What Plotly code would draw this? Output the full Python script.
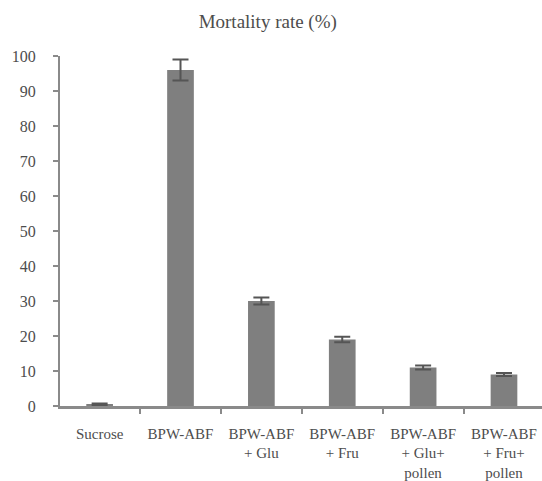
import plotly.graph_objects as go

# Treatments and measured mortality (%) with standard errors
categories = ["Sucrose", "BPW-ABF", "BPW-ABF + Glu", "BPW-ABF + Fru",
              "BPW-ABF + Glu + pollen", "BPW-ABF + Fru + pollen"]
tick_labels = ["Sucrose", "BPW-ABF", "BPW-ABF<br>+ Glu", "BPW-ABF<br>+ Fru",
               "BPW-ABF<br>+ Glu+<br>pollen", "BPW-ABF<br>+ Fru+<br>pollen"]
mortality = [0.5, 96, 30, 19, 11, 9]
std_err = [0.2, 3, 1, 0.8, 0.55, 0.45]
y_ticks = [0, 10, 20, 30, 40, 50, 60, 70, 80, 90, 100]

FONT = "'Liberation Serif', 'Times New Roman', 'DejaVu Serif', serif"
AXIS_GREY = "#8a8a8a"
TEXT_GREY = "#4d4d4d"

fig = go.Figure()

fig.add_trace(go.Bar(
    x=categories, y=mortality, width=0.33,
    marker=dict(color="#7f7f7f", line=dict(width=0)),
    error_y=dict(type="data", array=std_err, visible=True,
                 color="#555555", thickness=2, width=8),
    showlegend=False,
))

fig.update_layout(
    width=542, height=481,
    margin=dict(l=60, r=0, t=56, b=75),
    paper_bgcolor="white", plot_bgcolor="white",
    font=dict(family=FONT, size=16, color=TEXT_GREY),
    title=dict(text="Mortality rate (%)", x=0.494, xanchor="center",
               y=1 - 21 / 481, yanchor="middle",
               font=dict(family=FONT, size=19, color="#4d4d4d")),
    xaxis=dict(
        type="category", categoryorder="array", categoryarray=categories,
        tickmode="array", tickvals=categories, ticktext=tick_labels,
        range=[-0.49, 5.47], showline=True, linecolor=AXIS_GREY, linewidth=2.5,
        ticks="outside", tickson="boundaries", ticklen=5, tickwidth=2,
        tickcolor=AXIS_GREY, showgrid=False, zeroline=False,
        ticklabelstandoff=12, automargin=False,
        tickfont=dict(family=FONT, size=15, color=TEXT_GREY),
    ),
    yaxis=dict(
        range=[0, 100], tickmode="array", tickvals=y_ticks,
        showline=True, linecolor=AXIS_GREY, linewidth=2,
        ticks="outside", ticklen=5, tickwidth=2, tickcolor=AXIS_GREY,
        showgrid=False, zeroline=False,
        ticklabelstandoff=14, automargin=False,
        tickfont=dict(family=FONT, size=16, color=TEXT_GREY),
    ),
)

fig.write_html("out.html")
